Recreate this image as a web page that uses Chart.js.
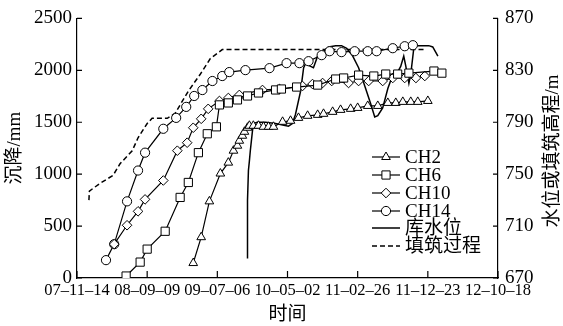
<!DOCTYPE html>
<html>
<head>
<meta charset="utf-8">
<script src="https://cdn.jsdelivr.net/npm/chart.js@4.4.0/dist/chart.umd.min.js"></script>
<style>
  html, body { margin: 0; padding: 0; background: #fff; }
</style>
</head>
<body>
<canvas id="settleChart" width="563" height="326"></canvas>
<script>
// x is days since 2007-11-14
const tickLabels = ["07–11–14", "08–09–09", "09–07–06", "10–05–02", "11–02–26", "11–12–23", "12–10–18"];

const ch2Days = [497, 531, 566, 613, 647, 669, 686, 694, 707, 716, 729, 737, 754, 776, 797, 819, 840, 879, 913, 947, 986, 1029, 1054, 1093, 1127, 1170, 1200, 1243, 1286, 1329, 1363, 1393, 1427, 1457, 1500];
const ch2Settle = [144, 393, 738, 1006, 1111, 1226, 1274, 1322, 1370, 1408, 1447, 1466, 1466, 1466, 1456, 1456, 1456, 1504, 1514, 1542, 1562, 1571, 1581, 1600, 1619, 1629, 1638, 1657, 1657, 1686, 1686, 1696, 1696, 1696, 1705];

const ch6Days = [210, 270, 300, 377, 441, 476, 519, 557, 596, 609, 647, 686, 729, 776, 849, 874, 939, 1029, 1106, 1140, 1204, 1269, 1320, 1371, 1419, 1526, 1560];
const ch6Settle = [19, 153, 278, 450, 776, 920, 1207, 1389, 1456, 1667, 1686, 1715, 1753, 1782, 1811, 1820, 1839, 1858, 1916, 1926, 1954, 1945, 1964, 1964, 1973, 1993, 1973];

const ch10Days = [159, 214, 261, 291, 369, 429, 471, 497, 531, 561, 609, 647, 694, 793, 866, 964, 1007, 1050, 1089, 1161, 1204, 1247, 1307, 1350, 1401, 1449, 1487];
const ch10Settle = [326, 508, 642, 757, 939, 1226, 1303, 1447, 1533, 1629, 1705, 1734, 1763, 1811, 1820, 1849, 1868, 1878, 1897, 1878, 1897, 1897, 1897, 1926, 1926, 1926, 1945];

const ch14Days = [124, 159, 214, 261, 291, 369, 424, 467, 501, 536, 579, 621, 651, 720, 823, 896, 951, 990, 1046, 1080, 1131, 1187, 1243, 1281, 1350, 1401, 1436];
const ch14Settle = [172, 326, 738, 1035, 1207, 1437, 1542, 1648, 1753, 1810, 1897, 1945, 1983, 2002, 2021, 2069, 2069, 2088, 2146, 2184, 2175, 2184, 2184, 2184, 2213, 2232, 2242];

const waterDays = [729, 729, 733, 737, 741, 750, 754, 771, 806, 849, 904, 921, 934, 956, 969, 977, 999, 1011, 1029, 1041, 1076, 1106, 1131, 1153, 1179, 1204, 1234, 1256, 1273, 1286, 1307, 1329, 1341, 1363, 1384, 1397, 1406, 1419, 1427, 1440, 1449, 1504, 1521, 1543];
const waterLevel = [685, 730, 753, 760, 768, 783, 789, 790, 790, 789, 787, 789, 796, 814, 832, 835, 833, 832, 841, 843, 848, 849, 849, 847, 841, 832, 816, 804, 794, 795, 801, 816, 822, 826, 833, 841, 833, 820, 827, 847, 849, 849, 848, 841];

const fillDays = [51, 53, 99, 154, 184, 236, 261, 300, 321, 386, 420, 476, 527, 570, 621, 1483];
const fillLevel = [730, 737, 743, 749, 758, 768, 778, 789, 793, 793, 797, 814, 827, 839, 846, 846];

const FONT = '"Liberation Serif", "Noto Sans CJK SC", serif';
Chart.defaults.font.family = FONT;
Chart.defaults.font.size = 19;
Chart.defaults.color = "#000";

const pairs = (xs, ys) => xs.map((x, i) => ({ x: x, y: ys[i] }));

function probe(label, xs, ys, style, r) {
    return {
        label: label,
        data: pairs(xs, ys),
        yAxisID: "y",
        borderColor: "#000",
        borderWidth: 1.2,
        pointStyle: style,
        pointRadius: r,
        pointBackgroundColor: "#fff",
        pointBorderColor: "#000",
        pointBorderWidth: 1,
        tension: 0
    };
}

// small ticks pointing into the plot, right axis title, legend box
const extras = {
    id: "extras",
    afterDraw(chart) {
        const { ctx, chartArea: a, scales } = chart;
        ctx.save();
        ctx.strokeStyle = "#000";
        ctx.lineWidth = 1.2;
        ctx.beginPath();
        scales.x.ticks.forEach(t => {
            const px = scales.x.getPixelForValue(t.value);
            ctx.moveTo(px, a.bottom);
            ctx.lineTo(px, a.bottom - 7);
        });
        scales.y.ticks.forEach(t => {
            const py = scales.y.getPixelForValue(t.value);
            ctx.moveTo(a.left, py);
            ctx.lineTo(a.left + 5, py);
        });
        scales.y2.ticks.forEach(t => {
            const py = scales.y2.getPixelForValue(t.value);
            ctx.moveTo(a.right, py);
            ctx.lineTo(a.right - 5, py);
        });
        ctx.stroke();

        ctx.fillStyle = "#000";
        ctx.font = "19px " + FONT;
        ctx.textAlign = "center";
        ctx.textBaseline = "middle";
        ctx.save();
        ctx.translate(553, 151);
        ctx.rotate(-Math.PI / 2);
        ctx.fillText("水位或填筑高程/m", 0, 0);
        ctx.restore();

        // legend
        const x0 = 372, x1 = 400, tx = 405;
        const rows = [157, 175, 193, 211, 228, 246];
        chart.data.datasets.forEach((ds, i) => {
            const y = rows[i];
            ctx.beginPath();
            ctx.setLineDash(ds.borderDash || []);
            ctx.lineWidth = ds.borderWidth;
            ctx.moveTo(x0, y);
            ctx.lineTo(x1, y);
            ctx.stroke();
            ctx.setLineDash([]);
            if (ds.pointRadius > 0) {
                ctx.fillStyle = "#fff";
                ctx.lineWidth = 1;
                Chart.helpers.drawPoint(ctx, {
                    pointStyle: ds.pointStyle, radius: ds.pointRadius, rotation: 0, borderWidth: 1
                }, (x0 + x1) / 2, y);
            }
            ctx.fillStyle = "#000";
            ctx.textAlign = "left";
            ctx.fillText(ds.label, tx, y + 1);
        });
        ctx.restore();
    }
};

new Chart(document.getElementById("settleChart"), {
    type: "line",
    data: {
        datasets: [
            probe("CH2", ch2Days, ch2Settle, "triangle", 5),
            probe("CH6", ch6Days, ch6Settle, "rect", 5.8),
            probe("CH10", ch10Days, ch10Settle, "rectRot", 4.8),
            probe("CH14", ch14Days, ch14Settle, "circle", 4.6),
            {
                label: "库水位",
                data: pairs(waterDays, waterLevel),
                yAxisID: "y2",
                borderColor: "#000",
                borderWidth: 1.5,
                pointRadius: 0,
                tension: 0
            },
            {
                label: "填筑过程",
                data: pairs(fillDays, fillLevel),
                yAxisID: "y2",
                borderColor: "#000",
                borderWidth: 1.5,
                borderDash: [5, 3],
                pointRadius: 0,
                tension: 0
            }
        ]
    },
    options: {
        responsive: false,
        animation: false,
        layout: { padding: { top: 17, left: 0, right: 0, bottom: 0 } },
        plugins: {
            legend: { display: false },
            tooltip: { enabled: false }
        },
        scales: {
            x: {
                type: "linear",
                min: 0,
                max: 1800,
                afterFit: s => { s.height = 48; },
                ticks: {
                    stepSize: 300,
                    autoSkip: false,
                    maxRotation: 0,
                    padding: 3,
                    font: { size: 16.5 },
                    callback: v => tickLabels[Math.round(v / 300)]
                },
                grid: { display: false, drawTicks: false },
                border: { display: true, color: "#000", width: 1.2 },
                title: { display: true, text: "时间", padding: { top: 0, bottom: 0 } }
            },
            y: {
                position: "left",
                min: 0,
                max: 2500,
                afterFit: s => { s.width = 77; },
                ticks: { stepSize: 500, padding: 5, callback: v => String(v) },
                grid: { display: false, drawTicks: false },
                border: { display: true, color: "#000", width: 1.2 },
                title: { display: true, text: "沉降/mm", padding: { top: 4, bottom: 0 } }
            },
            y2: {
                position: "right",
                min: 670,
                max: 870,
                afterFit: s => { s.width = 65; },
                ticks: { stepSize: 40, padding: 7, callback: v => String(v) },
                grid: { display: false, drawTicks: false },
                border: { display: true, color: "#000", width: 1.2 }
            }
        }
    },
    plugins: [extras]
});
</script>
</body>
</html>
